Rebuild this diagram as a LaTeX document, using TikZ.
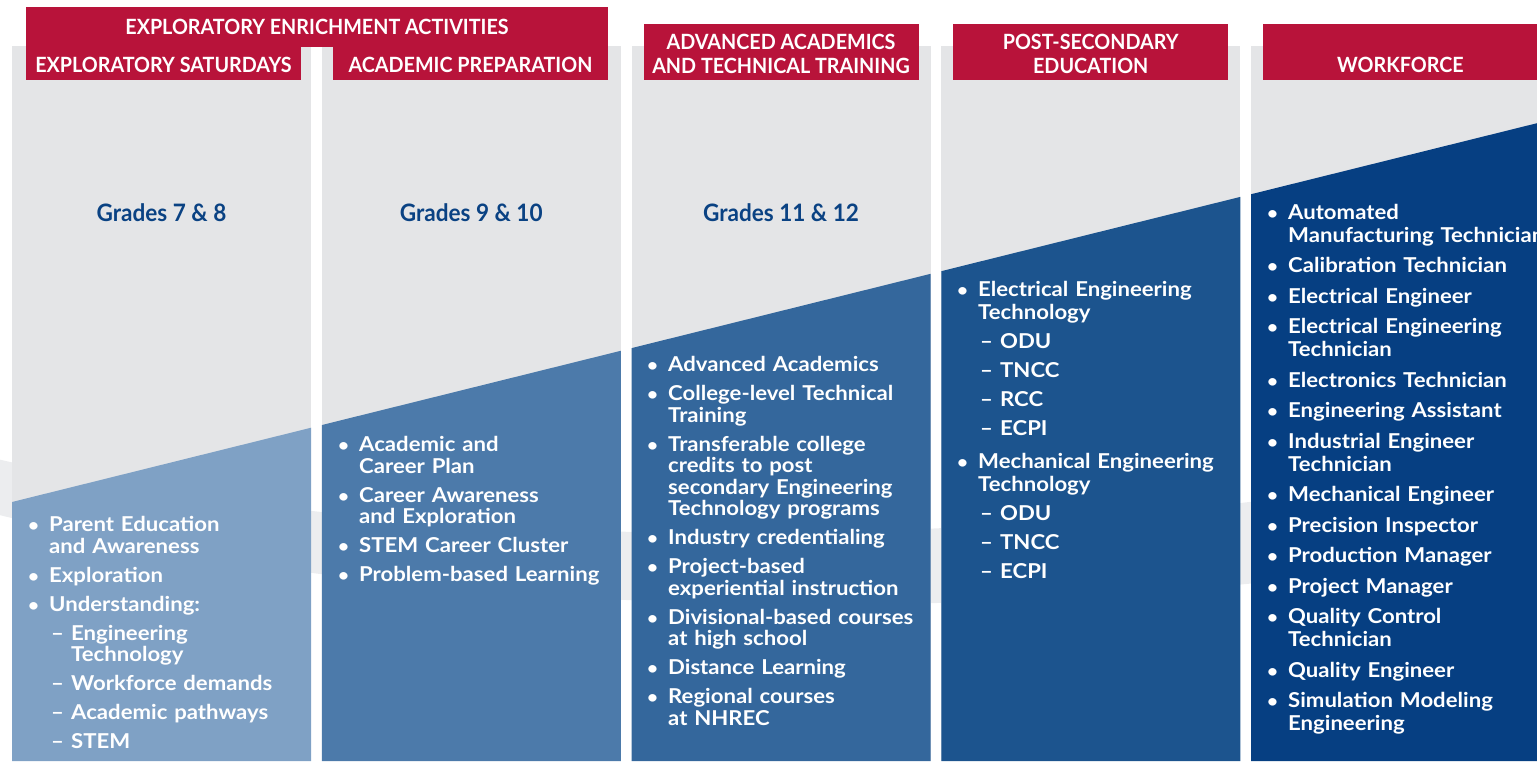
\documentclass[tikz,border=0pt]{standalone}
\usepackage{fontspec}
\setmainfont{Lato}
\newfontfamily\bodyfont{Lato}[FakeStretch=1.08]
\newfontfamily\headfont{Lato}[FakeStretch=0.94]
\definecolor{colgray}{HTML}{E4E5E7}
\definecolor{swoosh}{HTML}{ECEDEF}
\definecolor{hdred}{HTML}{B8133A}
\definecolor{navy}{HTML}{0A4283}
\definecolor{blueA}{HTML}{7FA1C5}
\definecolor{blueB}{HTML}{4C7AAA}
\definecolor{blueC}{HTML}{34679C}
\definecolor{blueD}{HTML}{1C548E}
\definecolor{blueE}{HTML}{063F82}
\newcommand\bitem[1]{\par\noindent\hangindent=21pt\hangafter=1\makebox[21pt][l]{\scalebox{0.85}{\textbullet}}#1\par}
\newcommand\ditem[1]{\par\noindent\hangindent=43pt\hangafter=1\hspace*{21pt}\makebox[22pt][l]{\hspace*{2pt}–}#1\par}
\newcommand\lowr[1]{\raisebox{-2pt}[\height][\depth]{#1}}
\begin{document}
\begin{tikzpicture}[x=1pt,y=-1pt,every node/.style={inner sep=0pt},
  hdr/.style={fill=hdred,text=white,font=\headfont\bfseries\fontsize{21}{24}\selectfont,align=center,minimum width=275pt},
  grade/.style={text=navy,font=\headfont\bfseries\fontsize{24}{27}\selectfont},
  items/.style={anchor=north west,text=white,text width=330pt,align=left,
    font=\bodyfont\bfseries\fontsize{20.5}{21.5}\selectfont,execute at begin node={\setlength{\parskip}{7.5pt}}}]
\useasboundingbox (0,0) rectangle (1537,761);
\clip (0,0) rectangle (1537,761);
\fill[swoosh] (-20,455) .. controls (420,560) and (1050,560) .. (1560,450) -- (1560,540) .. controls (1050,635) and (420,625) .. (-20,510) -- cycle;
\foreach \i/\c in {0/blueA,1/blueB,2/blueC,3/blueD,4/blueE} {
  \pgfmathsetmacro\xl{12+309.75*\i}
  \pgfmathsetmacro\yl{502-0.2484*(\xl-12)}
  \pgfmathsetmacro\yr{\yl-0.2484*299}
  \fill[colgray] (\xl,46) rectangle ++(299,715);
  \fill[\c] (\xl,\yl) -- (\xl+299,\yr) -- (\xl+299,761) -- (\xl,761) -- cycle;
}
\node[hdr,minimum width=582pt,minimum height=40pt] (enrich) at (317,27) {EXPLORATORY ENRICHMENT ACTIVITIES};
\node[hdr,text height=26.5pt,text depth=7.5pt] (satur) at (163.5,63) {EXPLORATORY SATURDAYS};
\node[hdr,text height=26.5pt,text depth=7.5pt] (acprep) at (470.5,63) {ACADEMIC PREPARATION};
\node[hdr,minimum height=56pt] (advtech) at (781,52) {\lowr{ADVANCED ACADEMICS}\\\lowr{AND TECHNICAL TRAINING}};
\node[hdr,minimum height=56pt] (postsec) at (1090.75,52) {\lowr{POST-SECONDARY}\\\lowr{EDUCATION}};
\node[hdr,text height=48.5pt,text depth=7.5pt] (workf) at (1400.5,52) {WORKFORCE};
\foreach \i/\g in {0/7 \& 8,1/9 \& 10,2/11 \& 12}
  \node[grade] (grade\i) at (161.5+309.75*\i,213) {Grades \g};
\node[items] (listA) at (28,502.5) {
  \bitem{Parent Education\newline and Awareness}
  \bitem{Exploration}
  \bitem{Understanding:}
  \ditem{Engineering\newline Technology}
  \ditem{Workforce demands}
  \ditem{Academic pathways}
  \ditem{STEM}};
\node[items] (listB) at (338,422.5) {
  \bitem{Academic and\newline Career Plan}
  \bitem{Career Awareness\newline and Exploration}
  \bitem{STEM Career Cluster}
  \bitem{Problem-based Learning}};
\node[items] (listC) at (647,342.5) {
  \bitem{Advanced Academics}
  \bitem{College-level Technical\newline Training}
  \bitem{Transferable college\newline credits to post\newline secondary Engineering\newline Technology programs}
  \bitem{Industry credentialing}
  \bitem{Project-based\newline experiential instruction}
  \bitem{Divisional-based courses\newline at high school}
  \bitem{Distance Learning}
  \bitem{Regional courses\newline at NHREC}};
\node[items,font=\bodyfont\bfseries\fontsize{20.5}{23}\selectfont,execute at begin node={\setlength{\parskip}{6pt}}] (listD) at (957,267) {
  \bitem{Electrical Engineering\newline Technology}
  \ditem{ODU}
  \ditem{TNCC}
  \ditem{RCC}
  \ditem{ECPI}
  \vspace{4pt}
  \bitem{Mechanical Engineering\newline Technology}
  \ditem{ODU}
  \ditem{TNCC}
  \ditem{ECPI}};
\node[items,font=\bodyfont\bfseries\fontsize{20.5}{23}\selectfont] (listE) at (1267,188.5) {
  \bitem{Automated\newline Manufacturing Technician}
  \bitem{Calibration Technician}
  \bitem{Electrical Engineer}
  \bitem{Electrical Engineering\newline Technician}
  \bitem{Electronics Technician}
  \bitem{Engineering Assistant}
  \bitem{Industrial Engineer\newline Technician}
  \bitem{Mechanical Engineer}
  \bitem{Precision Inspector}
  \bitem{Production Manager}
  \bitem{Project Manager}
  \bitem{Quality Control\newline Technician}
  \bitem{Quality Engineer}
  \bitem{Simulation Modeling\newline Engineering}};
\end{tikzpicture}
\end{document}
